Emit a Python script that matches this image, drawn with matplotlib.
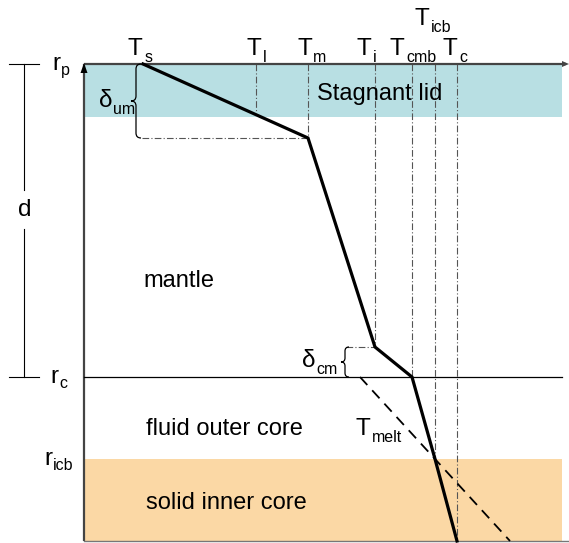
import matplotlib
matplotlib.use("Agg")
import matplotlib.pyplot as plt
from matplotlib.path import Path
from matplotlib.patches import PathPatch, Rectangle, Polygon

plt.rcParams["font.family"] = ["Liberation Sans", "DejaVu Sans"]

# Schematic temperatures (arbitrary units)
T_s, T_l, T_m, T_i, T_cmb, T_icb, T_c = 59, 172, 224, 291, 328, 351, 373
# Schematic radii (arbitrary units, centre = 0)
r_p, r_lid, r_um, r_cm, r_c, r_icb, r_0 = 477, 424, 403, 194, 164, 82, 0

# Temperature profile through lid, mantle, boundary layer and core
profile_r = [r_p, r_um, r_cm, r_c, r_icb, r_0]
profile_T = [T_s, T_m, T_i, T_cmb, T_icb, T_c]

# Core melting curve
melt_r = [r_c, r_icb, r_0]
melt_T = [276, T_icb, 426]

fig = plt.figure(figsize=(5.69, 5.43), dpi=100)
ax = fig.add_axes([0, 0, 1, 1])
ax.set_xlim(-84, 485)
ax.set_ylim(-2, 541)
ax.axis("off")
renderer = fig.canvas.get_renderer()

T_max = 478
# Coloured layers
ax.add_patch(Rectangle((0, r_lid), T_max, r_p - r_lid, color="#b8dfe3", lw=0, zorder=0))
ax.add_patch(Rectangle((0, r_0), T_max, r_icb - r_0, color="#fbd8a5", lw=0, zorder=0))

# Frame lines
ax.plot([0, 0], [r_0, r_p], color="#444444", lw=1.6, zorder=3, solid_capstyle="butt")
ax.plot([0, 482], [r_p, r_p], color="#444444", lw=1.6, zorder=3, solid_capstyle="butt")
ax.plot([0, 485], [r_0, r_0], color="#777777", lw=1.0, zorder=3)
ax.plot([0, T_max], [r_c, r_c], color="black", lw=0.9, zorder=3)
ax.add_patch(Polygon([[-3.5, r_p - 9], [3.5, r_p - 9], [0, r_p + 1]], closed=True,
                     color="black", lw=0, zorder=4))
ax.add_patch(Polygon([[478, r_p + 3], [478, r_p - 3], [485, r_p]], closed=True,
                     color="#444444", lw=0, zorder=4))

# Reference temperature markers
dashdot = (0, (6, 2, 1, 2))
for T, r_end in [(T_l, r_lid + 5), (T_m, r_um), (T_i, r_cm), (T_cmb, r_c),
                 (T_icb, r_icb), (T_c, r_0)]:
    ax.plot([T, T], [r_p, r_end], color="#555555", lw=0.8, ls=dashdot, zorder=2)
ax.plot([58, T_m], [r_um, r_um], color="#555555", lw=0.8, ls=dashdot, zorder=2)
ax.plot([262, T_i], [r_cm, r_cm], color="#555555", lw=0.8, ls=dashdot, zorder=2)

# Profiles
ax.plot(melt_T, melt_r, color="black", lw=1.3, ls=(0, (6, 4)), zorder=4)
ax.plot(profile_T, profile_r, color="black", lw=2.3, zorder=5,
        solid_joinstyle="miter")


def brace(x, r_top, r_bot, w):
    mid = 0.5 * (r_top + r_bot)
    verts = [(x + w, r_top), (x, r_top), (x, r_top - w),
             (x, mid + w), (x, mid), (x - w, mid),
             (x, mid), (x, mid - w),
             (x, r_bot + w), (x, r_bot), (x + w, r_bot)]
    codes = [Path.MOVETO, Path.CURVE3, Path.CURVE3,
             Path.LINETO, Path.CURVE3, Path.CURVE3,
             Path.CURVE3, Path.CURVE3,
             Path.LINETO, Path.CURVE3, Path.CURVE3]
    ax.add_patch(PathPatch(Path(verts, codes), fill=False, lw=0.9,
                           edgecolor="black", zorder=4))


brace(52, r_p, r_um, 5)
brace(261, r_cm, r_c, 4)

FS_MAIN = 17.5
FS_BODY = 17
FS_SUB = 11.5


def sub_label(x, r, main, sub, gap=1.5, drop=6.5):
    """Symbol with a lowered subscript, both drawn in the sans font."""
    t = ax.text(x, r, main, fontsize=FS_MAIN, ha="left", va="baseline", zorder=6)
    bb = t.get_window_extent(renderer).transformed(ax.transData.inverted())
    ax.text(bb.x1 + gap, r - drop, sub, fontsize=FS_SUB, ha="left", va="baseline",
            zorder=6)


# Depth scale bar
ax.plot([-60, -60], [r_p, 351], color="black", lw=0.8)
ax.plot([-60, -60], [312, r_c], color="black", lw=0.8)
ax.plot([-75, -45], [r_p, r_p], color="black", lw=0.8)
ax.plot([-75, -45], [r_c, r_c], color="black", lw=0.8)
ax.text(-59, 331, "d", fontsize=FS_MAIN, ha="center", va="center")

for lbl, x, r in [("s", T_s - 15, 486), ("l", T_l - 9, 486), ("m", T_m - 11, 486),
                  ("i", T_i - 18, 486), ("cmb", T_cmb - 22, 486),
                  ("icb", T_icb - 20, 516), ("c", T_c - 14, 486)]:
    sub_label(x, r, "T", lbl)

for lbl, x, r in [("p", -32, 471), ("c", -34, 158), ("icb", -40, 76)]:
    sub_label(x, r, "r", lbl, gap=1.0, drop=5.5)

sub_label(15, 434, "δ", "um", gap=0.5)
sub_label(218, 174, "δ", "cm", gap=0.5)
sub_label(272, 106, "T", "melt")

ax.text(296, 441, "Stagnant lid", fontsize=FS_BODY, ha="center", va="baseline")
ax.text(95, 254, "mantle", fontsize=FS_BODY, ha="center", va="baseline")
ax.text(140, 106, "fluid outer core", fontsize=FS_BODY, ha="center", va="baseline")
ax.text(142, 32, "solid inner core", fontsize=FS_BODY, ha="center", va="baseline")

fig.savefig("out.png", dpi=100)
